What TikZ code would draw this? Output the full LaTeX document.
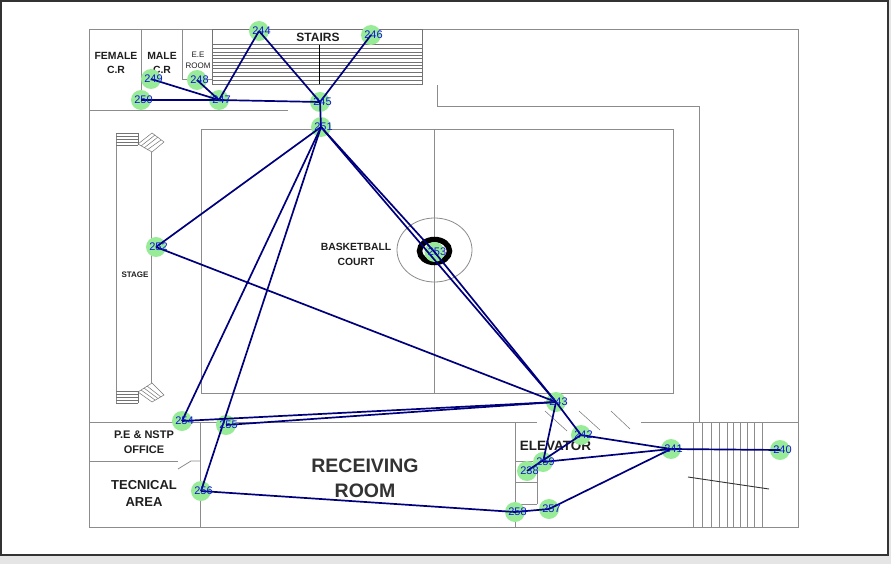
\documentclass[tikz,border=0pt]{standalone}
\usepackage{fontspec}
\setmainfont{Liberation Sans}
\definecolor{wpfill}{RGB}{152,236,152}
\definecolor{wptext}{RGB}{20,20,215}
\definecolor{routec}{RGB}{0,0,125}
\tikzset{
  wall/.style={draw=black!45,line width=0.8pt},
  stair/.style={draw=black!55,line width=0.5pt},
  route/.style={draw=routec,line width=1.7pt},
  wp/.style={circle,fill=wpfill,draw=none,minimum size=20pt,inner sep=0pt},
  wptxt/.style={text=wptext,font=\fontsize{11}{11}\selectfont,inner sep=0pt},
  lab/.style={font=\fontsize{10.4}{14}\selectfont\bfseries,align=center,text=black!88,inner sep=0pt},
}
\begin{document}
\begin{tikzpicture}[x=1pt,y=-1pt]
\useasboundingbox (0,0) rectangle (891,564);
\fill[white] (0,0) rectangle (891,564);
\fill[black!10] (0,556) rectangle (891,564);
\fill[black!10] (889,0) rectangle (891,564);
\draw[black!80,line width=2pt] (1,1) rectangle (888,555);
% outer walls
\draw[wall] (89,527) -- (89,29) -- (798,29) -- (798,527) -- cycle;
\draw[wall] (798,422) -- (641,422);
\draw[wall] (437,85) -- (437,106.5) -- (699,106.5) -- (699,422);
\draw[wall] (89,110) -- (288,110);
\draw[wall] (141,29) -- (141,110);
\draw[wall] (182,29) -- (182,79) -- (212,79);
% upper stairs
\draw[stair] (212,29) rectangle (422,84);
\foreach \y in {44,48,52,55,58,62,65,68,72,76,80}{\draw[stair] (212,\y) -- (422,\y);}
\draw[black,line width=0.9pt] (319,45) -- (319,84);
% court
\draw[wall] (201,129) rectangle (673,393);
\draw[wall] (434,129) -- (434,393);
\draw[wall] (434.5,250) ellipse (37.5pt and 32pt);
\draw[black,line width=5.5pt] (434.5,251) ellipse (15pt and 11.5pt);
% stage
\draw[wall] (116,133) -- (116,403) (151,152) -- (151,383);
\foreach \y in {133,136,139,142,145}{\draw[stair] (116,\y) -- (138,\y);}
\foreach \y in {391,394,397,400,403}{\draw[stair] (116,\y) -- (138,\y);}
\draw[stair] (138,133) -- (138,145) (138,391) -- (138,403);
\draw[stair] (138,144) -- (152,133) -- (164,142) -- (152,152) -- cycle;
\draw[stair] (141,146) -- (155,135) (144,148) -- (158,137) (147,150) -- (161,140);
\draw[stair] (138,392) -- (152,383) -- (164,395) -- (152,402) -- cycle;
\draw[stair] (141,390) -- (155,400) (144,388) -- (158,398.5) (147,386) -- (161,397);
% lower walls
\draw[wall] (89,422) -- (537,422);
\draw[wall] (200,422) -- (200,527);
\draw[wall] (89,461) -- (178,461);
\draw[wall] (178,469) -- (191,461) -- (200,461);
\draw[wall] (515,422) -- (515,527);
\draw[wall] (515,461) -- (537,461) (515,482) -- (537,482) (515,504) -- (537,504);
\draw[wall] (537,461) -- (537,504);
\draw[stair] (545,411) -- (567,431) (579,411) -- (600,430) (611,411) -- (630,429);
% lower stairs
\foreach \x in {693,702,711,719,727,733,740,747,754,762}{\draw[wall] (\x,422) -- (\x,527);}
\draw[black!80,line width=0.9pt] (688,477) -- (769,489);
% labels
\node[lab] at (116,63) {FEMALE\\C.R};
\node[lab] at (162,63) {MALE\\C.R};
\node[lab,font=\fontsize{8}{11}\selectfont] at (198,60.5) {E.E\\ROOM};
\node[lab,font=\fontsize{12}{14}\selectfont\bfseries] at (318,37) {STAIRS};
\node[lab,font=\fontsize{8}{10}\selectfont\bfseries] at (135,274.5) {STAGE};
\node[lab,font=\fontsize{10.4}{15}\selectfont\bfseries] at (356,254.5) {BASKETBALL\\COURT};
\node[lab,font=\fontsize{11}{15}\selectfont\bfseries] at (144,442) {P.E \& NSTP\\OFFICE};
\node[lab,font=\fontsize{13}{17}\selectfont\bfseries] at (144,493) {TECNICAL\\AREA};
\node[lab,font=\fontsize{19.5}{25}\selectfont\bfseries,text=black!80] at (365,478.5) {RECEIVING\\ROOM};
\node[lab,font=\fontsize{13.5}{15}\selectfont\bfseries] at (555.5,446) {ELEVATOR};
% waypoints
\foreach \n/\x/\y in {240/780/450,241/671/449,242/581/435,243/556/402,244/259/31,245/320/102,246/371/35,247/219/100,248/197/80,249/151/79,250/141/100,251/321/127,252/156/247,253/434.5/252,254/182/421,255/226/425,256/201/491,257/549/509,258/515/512,259/543/462,238/527/471}{
  \node[wp] (n\n) at (\x,\y) {};
}
% routes
\foreach \a/\b in {240/241,241/242,241/259,241/257,257/258,258/256,256/251,251/254,251/252,251/245,251/243,251/253,253/243,252/243,254/243,255/243,243/242,243/259,242/238,245/244,245/246,245/247,244/247,247/248,247/249,247/250}{
  \draw[route] (n\a.center) -- (n\b.center);
}
\foreach \n in {240,241,242,243,244,245,246,247,248,249,250,251,252,253,254,255,256,257,258,259,238}{
  \node[wptxt,xshift=2.5pt] at (n\n) {\n};
}
\end{tikzpicture}
\end{document}
